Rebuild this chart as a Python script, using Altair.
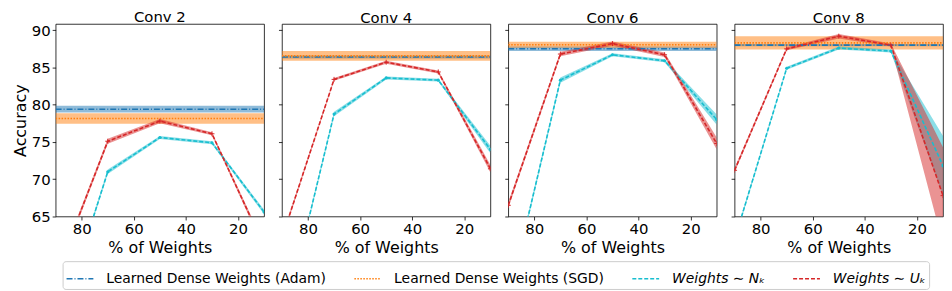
import altair as alt
import pandas as pd

panels = ["Conv 2", "Conv 4", "Conv 6", "Conv 8"]
pct = [90, 70, 50, 30, 10]
series_names = ["Learned Dense Weights (Adam)", "Learned Dense Weights (SGD)",
                "Weights \u223c N\u2096", "Weights \u223c U\u2096"]
colors = ["#1f77b4", "#ff7f0e", "#17becf", "#d62728"]
dashes = [[6, 2, 1, 2], [1.5, 1.5], [4, 2], [4, 2]]

adam_mean = [79.4, 86.4, 87.5, 88.0]
adam_std = [0.45, 0.2, 0.3, 0.15]
sgd_mean = [78.15, 86.55, 88.05, 88.3]
sgd_std = [0.7, 0.65, 0.4, 0.9]

nk_mean = {
    "Conv 2": [49.0, 71.0, 75.6, 74.9, 65.6],
    "Conv 4": [49.8, 78.75, 83.6, 83.3, 74.0],
    "Conv 6": [53.7, 83.3, 86.7, 85.9, 78.0],
    "Conv 8": [61.9, 84.9, 87.6, 87.2, 71.8],
}
nk_std = {
    "Conv 2": [0.3, 0.3, 0.2, 0.2, 0.3],
    "Conv 4": [0.3, 0.3, 0.2, 0.2, 0.5],
    "Conv 6": [0.4, 0.35, 0.2, 0.2, 0.7],
    "Conv 8": [0.3, 0.2, 0.2, 0.2, 4.0],
}
uk_mean = {
    "Conv 2": [57.0, 75.1, 77.8, 76.1, 61.0],
    "Conv 4": [62.1, 83.4, 85.7, 84.4, 71.4],
    "Conv 6": [66.5, 86.8, 88.2, 86.7, 74.8],
    "Conv 8": [71.2, 87.5, 89.2, 88.0, 67.8],
}
uk_std = {
    "Conv 2": [0.4, 0.35, 0.3, 0.2, 0.4],
    "Conv 4": [0.3, 0.2, 0.2, 0.2, 0.5],
    "Conv 6": [0.4, 0.3, 0.3, 0.3, 0.8],
    "Conv 8": [0.3, 0.2, 0.3, 0.2, 6.5],
}

rows = []
for i, p in enumerate(panels):
    for xv in [90, 10]:
        rows.append(dict(panel=p, series=series_names[0], x=xv, y=adam_mean[i],
                         lo=adam_mean[i] - adam_std[i], hi=adam_mean[i] + adam_std[i]))
        rows.append(dict(panel=p, series=series_names[1], x=xv, y=sgd_mean[i],
                         lo=sgd_mean[i] - sgd_std[i], hi=sgd_mean[i] + sgd_std[i]))
    for j, xv in enumerate(pct):
        m, s = nk_mean[p][j], nk_std[p][j]
        rows.append(dict(panel=p, series=series_names[2], x=xv, y=m, lo=m - s, hi=m + s))
        m, s = uk_mean[p][j], uk_std[p][j]
        rows.append(dict(panel=p, series=series_names[3], x=xv, y=m, lo=m - s, hi=m + s))
df = pd.DataFrame(rows)

color_scale = alt.Scale(domain=series_names, range=colors)
dash_scale = alt.Scale(domain=series_names, range=dashes)

yvals = [65, 70, 75, 80, 85, 90]

leg = alt.Legend(
    title=None, orient="none", legendX=7, legendY=239, direction="horizontal",
    labelFontStyle={"expr": "indexof(datum.label, 'Learned') == 0 ? 'normal' : 'italic'"},
)


def panel_chart(i, p):
    base = alt.Chart(df).transform_filter(alt.datum.panel == p)
    xenc = alt.X("x:Q", scale=alt.Scale(domain=[10, 90], reverse=True, nice=False, zero=False),
                 axis=alt.Axis(values=[80, 60, 40, 20], title="% of Weights"))
    yaxis = alt.Axis(values=yvals, labels=(i == 0), labelOverlap=False,
                     title=("Accuracy" if i == 0 else None))
    yscale = alt.Scale(domain=[65, 90.84], nice=False, zero=False)
    layers = []
    for k, s in enumerate(series_names):
        layers.append(
            base.transform_filter(alt.datum.series == s).mark_area(
                opacity=0.5, clip=True, color=colors[k]).encode(
                x=xenc,
                y=alt.Y("lo:Q", scale=yscale, axis=yaxis),
                y2="hi:Q",
            )
        )
    lines = base.mark_line(clip=True, strokeWidth=1.6).encode(
        x=xenc,
        y=alt.Y("y:Q", scale=yscale, axis=yaxis),
        color=alt.Color("series:N", scale=color_scale, legend=leg),
        strokeDash=alt.StrokeDash("series:N", scale=dash_scale, legend=leg),
    )
    pts_n = base.transform_filter(alt.datum.series == series_names[2]).mark_circle(
        size=10, clip=True, opacity=1, color=colors[2]).encode(
        x=xenc, y=alt.Y("y:Q", scale=yscale, axis=yaxis))
    pts_u = base.transform_filter(alt.datum.series == series_names[3]).mark_point(
        shape="M-1,0H1M0,-1V1", size=25, strokeWidth=1, clip=True, opacity=1,
        color=colors[3]).encode(x=xenc, y=alt.Y("y:Q", scale=yscale, axis=yaxis))
    layers += [lines, pts_n, pts_u]
    return alt.layer(*layers).properties(
        width=210, height=194,
        title=alt.TitleParams(p, fontSize=15, fontWeight="normal", offset=-2, color="black"),
    )


chart = alt.hconcat(*[panel_chart(i, p) for i, p in enumerate(panels)], spacing=12).properties(
    padding={"left": 4, "top": 0, "right": 0, "bottom": 0}
).configure(font="DejaVu Sans").configure_view(
    stroke="black", strokeWidth=0.8
).configure_axis(
    domain=False, grid=False, tickColor="black", tickSize=3.5, tickWidth=0.8,
    labelFontSize=15, labelColor="black", titleFontSize=16, titleFontWeight="normal",
    titleColor="black", labelPadding=2, titlePadding=3, labelOverlap=False,
).configure_legend(
    symbolType="stroke", symbolSize=729,
    symbolStrokeWidth=1.5, labelFontSize=14, labelColor="black", columnPadding=25,
    labelOffset=12, padding=3, strokeColor="#cccccc", cornerRadius=3, labelLimit=400,
)

chart.save("out.html", embed_options={"renderer": "svg", "actions": False})
